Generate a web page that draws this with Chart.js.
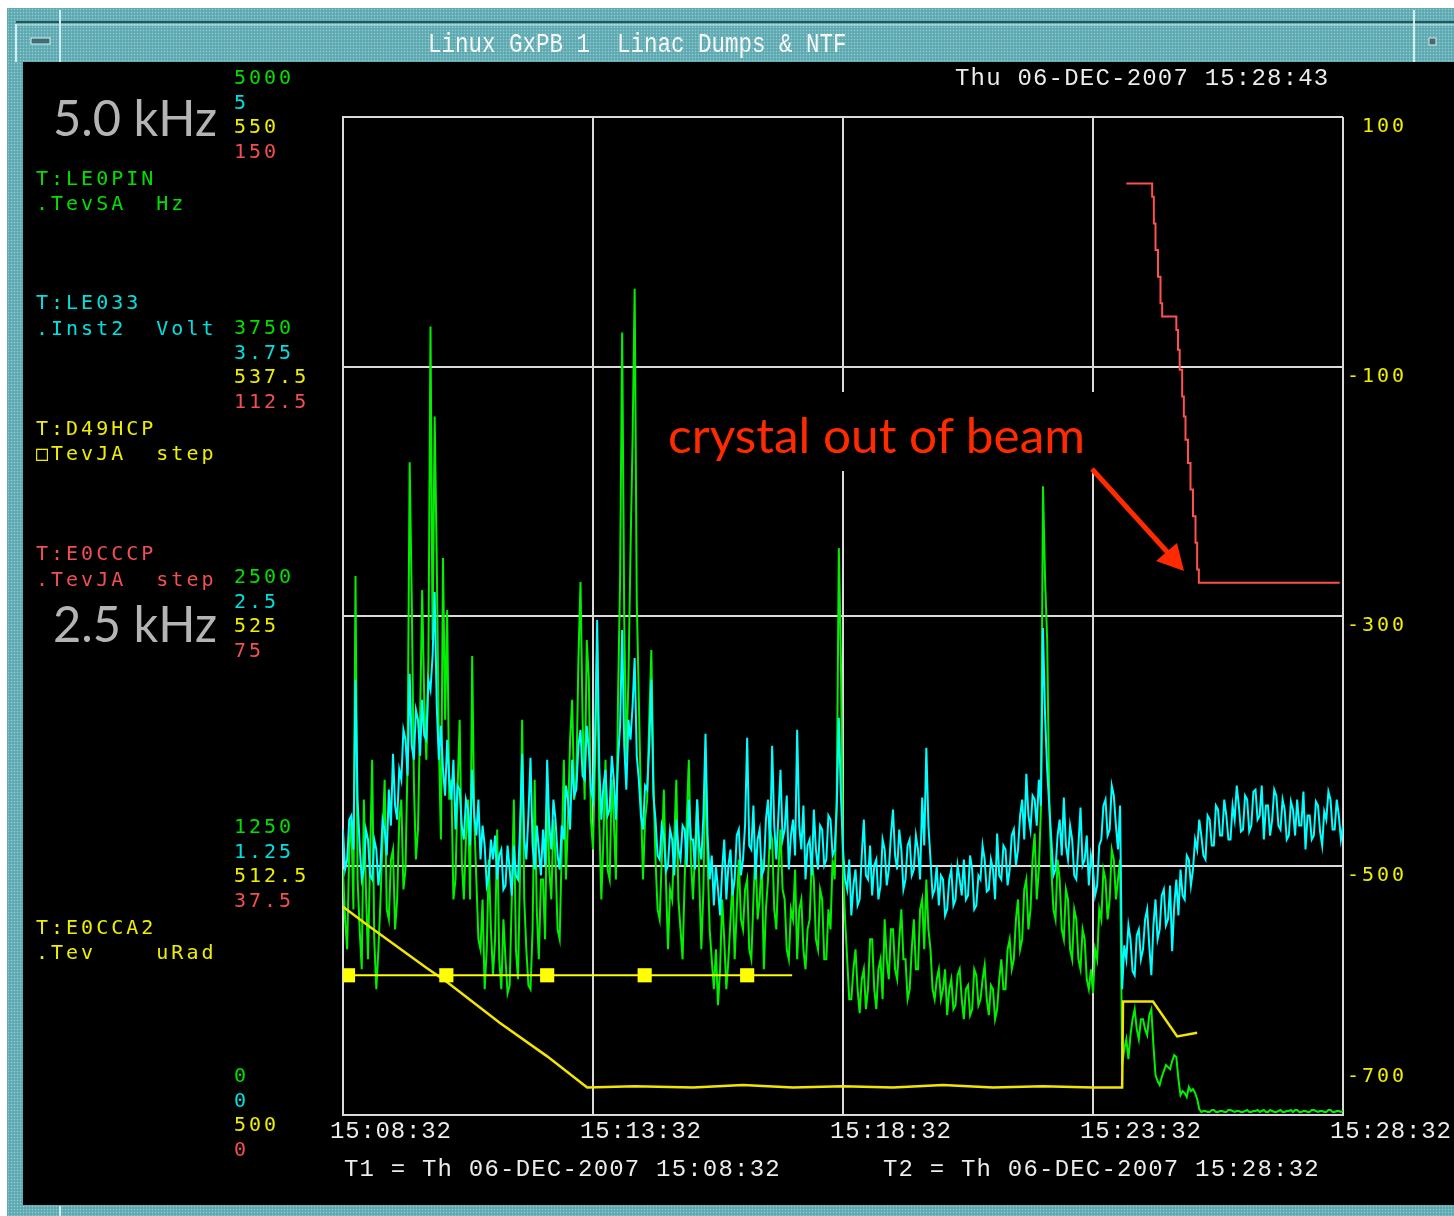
<!DOCTYPE html>
<html>
<head>
<meta charset="utf-8">
<script src="https://cdn.jsdelivr.net/npm/chart.js@4.4.1/dist/chart.umd.min.js"></script>
<style>
html,body{margin:0;padding:0;background:#fff;}
#page{position:relative;width:1454px;height:1216px;overflow:hidden;background:#fff;}
.teal{background-color:#5ea8b0;background-image:radial-gradient(circle, rgba(175,228,230,0.6) 0.7px, transparent 1.1px);background-size:3px 3px;}
#frame{position:absolute;left:7px;top:8px;width:1447px;height:1208px;}
#panel{position:absolute;left:23px;top:62px;width:1431px;height:1143px;background:#000;}
#c{position:absolute;left:0;top:0;width:1454px;height:1216px;}
#ov{position:absolute;left:0;top:0;}
#ov text{white-space:pre;}
.mono{font-family:"DejaVu Sans Mono",monospace;font-size:20px;letter-spacing:3px;}
.thin{font-family:"Liberation Mono",monospace;font-size:24px;letter-spacing:1.2px;fill:#ececec;}
</style>
</head>
<body>
<div id="page">
  <div id="frame" class="teal"></div>
  <div id="panel"></div>
  <canvas id="c" width="1454" height="1216"></canvas>
  <svg id="ov" width="1454" height="1216" xmlns="http://www.w3.org/2000/svg">
    <line x1="16" y1="22" x2="1454" y2="22" stroke="#22575c" stroke-width="2"/>
    <line x1="16" y1="25" x2="1454" y2="25" stroke="#c4e9ec" stroke-width="1"/>
    <line x1="60" y1="10" x2="60" y2="62" stroke="#cdeff1" stroke-width="2"/>
    <line x1="16" y1="24" x2="16" y2="62" stroke="#cdeff1" stroke-width="2"/>
    <line x1="1414" y1="10" x2="1414" y2="62" stroke="#cdeff1" stroke-width="2"/>
    <rect x="31" y="38" width="19" height="6" fill="#3d6e73" stroke="#d8f0f2" stroke-width="1"/>
    <rect x="1429" y="38" width="7" height="7" fill="#3d6e73" stroke="#e0e0e0" stroke-width="1"/>
    <line x1="60" y1="1206" x2="60" y2="1216" stroke="#cdeff1" stroke-width="2"/>
    <text transform="translate(428,52) scale(1,1.2)" x="0" y="0" font-family="Liberation Mono" font-size="22.5" fill="#f6f6f6">Linux GxPB 1  Linac Dumps &amp; NTF</text>

    <text class="thin" x="955" y="85">Thu 06-DEC-2007 15:28:43</text>
    <text class="thin" x="344" y="1176">T1 = Th 06-DEC-2007 15:08:32</text>
    <text class="thin" x="883" y="1176">T2 = Th 06-DEC-2007 15:28:32</text>

    <g class="mono">
      <text x="36" y="185" fill="#00e000">T:LE0PIN</text>
      <text x="36" y="210" fill="#00e000">.TevSA  Hz</text>
      <text x="36" y="309" fill="#00e0e0">T:LE033</text>
      <text x="36" y="335" fill="#00e0e0">.Inst2  Volt</text>
      <text x="36" y="435" fill="#eeee00">T:D49HCP</text>
      <text x="36" y="460" fill="#eeee00">□TevJA  step</text>
      <text x="36" y="560" fill="#f05050">T:E0CCCP</text>
      <text x="36" y="586" fill="#f05050">.TevJA  step</text>
      <text x="36" y="934" fill="#eeee00">T:E0CCA2</text>
      <text x="36" y="959" fill="#eeee00">.Tev    uRad</text>
    </g>

    <text x="53" y="136" font-family="Lato" font-size="51" fill="#b4b4b4" textLength="164" lengthAdjust="spacingAndGlyphs">5.0 kHz</text>
    <text x="53" y="642" font-family="Lato" font-size="51" fill="#b4b4b4" textLength="164" lengthAdjust="spacingAndGlyphs">2.5 kHz</text>
    <rect x="660" y="392" width="436" height="79" fill="#000"/>
    <text x="668" y="453" font-family="Lato" font-size="49" fill="#ff2a00" textLength="417" lengthAdjust="spacingAndGlyphs">crystal out of beam</text>
    <line x1="1092" y1="469" x2="1170" y2="555" stroke="#ff2a00" stroke-width="5"/>
    <polygon points="1184,571 1156,561 1177,543" fill="#ff2a00"/>
  </svg>
</div>
<script>
// ---------------- data ----------------
// sample times (s after 15:08:32) of the two fast channels
const sampleTimes = [
0,2.5,5,7.5,10,12.5,15,17.5,20,22.5,25,27.5,30,32.5,35,37.5,40,42.5,45,47.5,50,52.5,55,57.5,
60,62.5,65,67.5,70,72.5,75,77.5,80,82.5,85,87.5,90,92.5,95,97.5,100,102.5,105,107.5,110,112.5,115,117.5,
120,122.5,125,127.5,130,132.5,135,137.5,140,142.5,145,147.5,150,152.5,155,157.5,160,162.5,165,167.5,170,172.5,175,177.5,
180,182.5,185,187.5,190,192.5,195,197.5,200,202.5,205,207.5,210,212.5,215,217.5,220,222.5,225,227.5,230,232.5,235,237.5,
240,242.5,245,247.5,250,252.5,255,257.5,260,262.5,265,267.5,270,272.5,275,277.5,280,282.5,285,287.5,290,292.5,295,297.5,
300,302.5,305,307.5,310,312.5,315,317.5,320,322.5,325,327.5,330,332.5,335,337.5,340,342.5,345,347.5,350,352.5,355,357.5,
360,362.5,365,367.5,370,372.5,375,377.5,380,382.5,385,387.5,390,392.5,395,397.5,400,402.5,405,407.5,410,412.5,415,417.5,
420,422.5,425,427.5,430,432.5,435,437.5,440,442.5,445,447.5,450,452.5,455,457.5,460,462.5,465,467.5,470,472.5,475,477.5,
480,482.5,485,487.5,490,492.5,495,497.5,500,502.5,505,507.5,510,512.5,515,517.5,520,522.5,525,527.5,530,532.5,535,537.5,
540,542.5,545,547.5,550,552.5,555,557.5,560,562.5,565,567.5,570,572.5,575,577.5,580,582.5,585,587.5,590,592.5,595,597.5,
600,602.5,605,607.5,610,612.5,615,617.5,620,622.5,625,627.5,630,632.5,635,637.5,640,642.5,645,647.5,650,652.5,655,657.5,
660,662.5,665,667.5,670,672.5,675,677.5,680,682.5,685,687.5,690,692.5,695,697.5,700,702.5,705,707.5,710,712.5,715,717.5,
720,722.5,725,727.5,730,732.5,735,737.5,740,742.5,745,747.5,750,752.5,755,757.5,760,762.5,765,767.5,770,772.5,775,777.5,
780,782.5,785,787.5,790,792.5,795,797.5,800,802.5,805,807.5,810,812.5,815,817.5,820,822.5,825,827.5,830,832.5,835,837.5,
840,842.5,845,847.5,850,852.5,855,857.5,860,862.5,865,867.5,870,872.5,875,877.5,880,882.5,885,887.5,890,892.5,895,897.5,
900,902.5,905,907.5,910,912.5,915,917.5,920,922.5,925,927.5,930,932.5,935,937.5,940,942.5,945,947.5,950,952.5,955,957.5,
960,962.5,965,967.5,970,972.5,975,977.5,980,982.5,985,987.5,990,992.5,995,997.5,1000,1002.5,1005,1007.5,1010,1012.5,1015,1017.5,
1020,1022.5,1025,1027.5,1030,1032.5,1035,1037.5,1040,1042.5,1045,1047.5,1050,1052.5,1055,1057.5,1060,1062.5,1065,1067.5,1070,1072.5,1075,1077.5,
1080,1082.5,1085,1087.5,1090,1092.5,1095,1097.5,1100,1102.5,1105,1107.5,1110,1112.5,1115,1117.5,1120,1122.5,1125,1127.5,1130,1132.5,1135,1137.5,
1140,1142.5,1145,1147.5,1150,1152.5,1155,1157.5,1160,1162.5,1165,1167.5,1170,1172.5,1175,1177.5,1180,1182.5,1185,1187.5,1190,1192.5,1195,1197.5,
1200];

// T:LE0PIN .TevSA (Hz)
const le0pinHz = [
1230,980,830,1330,1480,1030,2700,1180,930,730,1580,1130,780,1280,1780,880,630,830,1080,1380,1680,1030,980,1280,
1330,930,1080,1480,1580,1130,1230,1780,3270,2580,1680,1280,1430,1980,2630,2080,1780,2280,3950,2380,3500,2780,1880,1380,
2790,1980,2530,1580,1680,1080,1180,1630,1980,1280,1080,1380,1580,1080,2300,1480,1180,880,830,1080,630,830,1280,930,
700,880,1430,780,630,980,780,610,650,1080,1580,830,680,1230,1980,1080,830,650,630,930,1680,1030,780,1180,
1180,880,1630,1230,1080,1480,1280,930,880,1330,1780,1180,1480,1880,2080,1580,1680,2280,2670,1980,1580,2380,2180,1480,
1330,1780,2380,1480,1080,1380,1780,1230,1180,1680,1480,1180,2080,2680,3920,2480,1780,2180,2820,3380,4140,2580,2080,1580,
1180,1480,1580,1980,2330,1680,1280,1030,980,1280,1630,1180,830,1130,1080,1380,1680,1080,930,780,1180,1480,1780,1280,
1080,1330,1580,1180,830,1130,1780,1280,930,780,630,830,550,730,1080,880,630,780,980,1180,780,1030,1280,980,
930,1130,1180,830,780,1080,1330,980,1080,1280,730,1030,1180,1430,1380,1030,930,1230,1430,1130,1080,830,780,1030,
980,1230,780,1030,1080,830,730,930,980,1280,1180,880,830,1130,1080,780,780,1030,930,1280,1180,1580,2840,2280,
1230,980,780,580,580,730,830,630,510,680,730,530,630,880,880,630,530,730,780,580,980,780,680,930,
930,730,680,880,1030,780,780,580,630,830,980,730,730,1030,1080,830,1180,930,830,630,580,680,730,580,
630,730,500,630,680,530,550,700,730,580,480,630,650,500,530,730,700,550,580,680,750,580,500,650,
630,480,530,680,780,630,630,830,880,730,780,980,1080,830,880,1130,1180,930,1030,1280,1410,1080,1230,1530,
3150,2680,2380,1580,1230,1030,980,1280,1180,930,880,1130,1080,830,780,1030,980,780,730,930,880,680,630,730,
610,830,780,1030,980,1230,1180,980,1080,1330,1280,1080,1180,1280,250,330,380,280,400,480,530,430,380,480,
480,430,400,500,530,350,200,170,150,190,220,250,240,230,270,300,290,180,100,120,110,90,140,120,
130,110,80,30,15,20,20,15,15,25,25,15,15,20,20,15,15,25,25,20,15,20,20,15,
15,20,25,15,15,20,20,25,15,20,25,15,15,25,20,15,15,20,25,15,15,20,20,25,
15,25,25,15,15,20,20,15,15,25,25,20,15,20,20,15,15,25,25,15,15,20,20,15,
20];

// T:LE033 .Inst2 (Volt)
const le033Volt = [
1.43,1.23,1.28,1.48,1.50,1.33,2.18,1.58,1.35,1.18,1.23,1.43,1.38,1.20,1.18,1.38,1.33,1.15,1.25,1.48,1.43,1.30,1.63,1.45,
1.81,1.55,1.48,1.73,1.68,1.93,1.88,1.70,2.21,1.85,1.78,2.03,1.98,1.80,2.08,1.90,1.88,2.18,2.13,2.30,2.62,2.05,1.78,1.95,
1.73,1.60,1.88,1.68,1.58,1.78,1.43,1.65,1.63,1.45,1.38,1.58,1.53,1.35,1.73,1.50,1.40,1.58,1.28,1.45,1.35,1.15,1.20,1.38,
1.28,1.40,1.18,1.30,1.33,1.13,1.15,1.35,1.23,1.10,1.35,1.20,1.18,1.45,1.81,1.38,1.28,1.50,1.79,1.35,1.23,1.45,1.33,1.20,
1.43,1.25,1.78,1.45,1.33,1.58,1.48,1.30,1.23,1.45,1.38,1.65,1.58,1.43,1.78,1.60,1.63,1.85,1.93,1.70,1.68,1.95,1.83,1.63,
1.58,1.88,2.48,1.75,1.48,1.65,1.73,1.50,1.53,1.80,1.68,1.48,1.78,1.95,2.43,1.85,1.63,1.98,1.88,2.05,2.29,1.80,1.68,1.50,
1.43,1.65,1.63,1.85,2.18,1.60,1.48,1.30,1.28,1.45,1.40,1.22,1.25,1.43,1.38,1.20,1.48,1.33,1.28,1.45,1.43,1.25,1.58,1.38,
1.38,1.23,1.58,1.35,1.28,1.50,1.91,1.40,1.18,1.30,1.05,1.25,1.13,1.00,1.23,1.38,1.08,1.25,1.33,1.10,1.18,1.40,1.43,1.20,
1.28,1.45,1.89,1.35,1.33,1.55,1.18,1.38,1.43,1.20,1.23,1.48,1.58,1.33,1.85,1.45,1.28,1.50,1.73,1.38,1.43,1.60,1.23,1.40,
1.48,1.30,1.93,1.45,1.33,1.55,1.18,1.35,1.38,1.20,1.53,1.33,1.23,1.45,1.43,1.25,1.28,1.50,1.48,1.30,1.33,1.55,1.99,1.60,
1.33,1.18,1.13,1.28,1.00,1.15,1.23,1.05,1.08,1.30,1.48,1.20,1.18,1.35,1.10,1.25,1.28,1.08,1.15,1.38,1.33,1.15,1.23,1.40,
1.53,1.30,1.23,1.43,1.33,1.13,1.18,1.35,1.38,1.20,1.23,1.40,1.33,1.18,1.59,1.35,1.84,1.45,1.28,1.10,1.13,1.25,1.05,1.20,
1.18,1.00,1.03,1.18,1.23,1.05,1.08,1.25,1.18,1.10,1.28,1.08,1.10,1.30,1.23,1.03,1.05,1.20,1.18,1.35,1.28,1.12,1.13,1.28,
1.23,1.08,1.41,1.20,1.18,1.35,1.33,1.15,1.23,1.40,1.43,1.25,1.33,1.50,1.58,1.38,1.71,1.50,1.43,1.60,1.58,1.45,1.68,1.55,
2.44,2.00,1.73,1.55,1.38,1.20,1.23,1.40,1.48,1.30,1.59,1.35,1.28,1.45,1.38,1.20,1.18,1.35,1.54,1.25,1.28,1.40,1.15,1.30,
1.23,1.10,1.15,1.35,1.38,1.55,1.58,1.40,1.43,1.65,1.60,1.45,1.33,1.55,0.63,0.85,0.78,0.95,0.88,0.72,0.70,0.90,0.93,0.78,
0.83,0.98,1.03,0.85,0.70,0.95,1.08,0.88,0.93,1.10,1.13,0.95,0.98,1.15,0.82,1.05,1.18,1.00,1.23,1.10,1.08,1.30,1.28,1.15,
1.23,1.38,1.33,1.48,1.40,1.30,1.28,1.50,1.48,1.35,1.35,1.55,1.53,1.40,1.40,1.58,1.50,1.38,1.38,1.55,1.48,1.65,1.55,1.42,
1.43,1.60,1.58,1.42,1.45,1.62,1.63,1.48,1.50,1.65,1.38,1.55,1.55,1.40,1.48,1.63,1.60,1.45,1.43,1.58,1.53,1.38,1.40,1.57,
1.53,1.40,1.58,1.45,1.45,1.62,1.33,1.50,1.50,1.38,1.40,1.57,1.55,1.42,1.35,1.52,1.48,1.62,1.58,1.43,1.43,1.58,1.50,1.38,
1.45];

// T:D49HCP step (yellow, 500..550) - markers every ~2 min
const d49Times  = [0, 6, 124, 245, 362, 485, 539];
const d49Values = [507, 507, 507, 507, 507, 507, 507];
const d49Marker = [0, 10, 10, 10, 10, 10, 0];

// T:E0CCA2 .Tev uRad (yellow, right axis -700..100)
const cca2Times  = [0, 30, 100, 124, 188, 245, 293, 350, 420, 480, 540, 600, 660, 720, 780, 840, 900, 935, 936, 972, 1001, 1025];
const cca2Values = [-533, -548, -582, -593, -626, -653, -678, -677, -678, -676, -678, -677, -678, -676, -678, -677, -678, -678, -609, -609, -637, -634];

// T:E0CCCP .TevJA step (red, 0..150)
const ccpTimes  = [940, 971, 973, 975, 978, 981, 983, 1000, 1002, 1004, 1007, 1009, 1011, 1014, 1017, 1020, 1023, 1025, 1027, 1196];
const ccpValues = [140, 138, 134, 130, 126, 122, 120, 118, 115, 112, 108, 105, 101.5, 98, 94, 90, 86, 82, 80, 80];

// axis tick labels
const timeTicks   = [0, 300, 600, 900, 1200];
const timeLabels  = ['15:08:32', '15:13:32', '15:18:32', '15:23:32', '15:28:32'];
const greenTicks  = [5000, 3750, 2500, 1250, 0];
const cyanTicks   = [5, 3.75, 2.5, 1.25, 0];
const yellowTicks = [550, 537.5, 525, 512.5, 500];
const redTicks    = [150, 112.5, 75, 37.5, 0];
const uradTicks   = [100, -100, -300, -500, -700];

// ---------------- chart ----------------
const GRID = '#dadada';

const acnetLabels = {
  id: 'acnetLabels',
  afterDraw(chart) {
    const {ctx, chartArea: a, scales: s} = chart;
    ctx.save();
    ctx.textBaseline = 'middle';
    ctx.textAlign = 'left';
    ctx.font = '20px "DejaVu Sans Mono"';
    if ('letterSpacing' in ctx) ctx.letterSpacing = '3px';
    const lx = a.left - 109;
    const groups = [
      [s.yG, greenTicks, '#00e000', -38],
      [s.yC, cyanTicks, '#00e0e0', -13],
      [s.yY, yellowTicks, '#eeee00', 11],
      [s.yR, redTicks, '#f05050', 36]
    ];
    groups.forEach(([sc, ticks, col, off]) => {
      ctx.fillStyle = col;
      ticks.forEach(v => ctx.fillText(String(v), lx, sc.getPixelForValue(v) + off));
    });
    ctx.fillStyle = '#eeee00';
    uradTicks.forEach((v, i) => {
      const txt = String(v);
      const off = (i === uradTicks.length - 1) ? -38 : 10;
      ctx.fillText(txt, a.right + 64 - 15 * txt.length, s.yU.getPixelForValue(v) + off);
    });
    ctx.font = '24px "Liberation Mono"';
    if ('letterSpacing' in ctx) ctx.letterSpacing = '0.8px';
    ctx.fillStyle = '#ececec';
    timeTicks.forEach((t, i) => ctx.fillText(timeLabels[i], s.x.getPixelForValue(t) - 13, a.bottom + 17));
    ctx.restore();
  }
};

const gridOpts = {color: GRID, lineWidth: 2, drawTicks: false};
const borderOpts = {display: true, color: GRID, width: 2};

new Chart(document.getElementById('c'), {
  type: 'line',
  data: {
    labels: sampleTimes,
    datasets: [
      {
        label: 'T:E0CCCP', data: ccpTimes.map((t, i) => ({x: t, y: ccpValues[i]})),
        yAxisID: 'yR', borderColor: '#ff5050', borderWidth: 2, stepped: 'before', pointRadius: 0, order: 0
      },
      {
        label: 'T:D49HCP', data: d49Times.map((t, i) => ({x: t, y: d49Values[i]})),
        yAxisID: 'yY', borderColor: '#ffff00', borderWidth: 2, pointStyle: 'rect',
        pointRadius: d49Marker, pointBackgroundColor: '#ffff00', pointBorderColor: '#ffff00', pointBorderWidth: 0, order: 1
      },
      {
        label: 'T:E0CCA2', data: cca2Times.map((t, i) => ({x: t, y: cca2Values[i]})),
        yAxisID: 'yU', borderColor: '#f2e600', borderWidth: 2.5, pointRadius: 0, order: 2
      },
      {
        label: 'T:LE033', data: le033Volt, yAxisID: 'yC',
        borderColor: '#00ffff', borderWidth: 2, pointRadius: 0, order: 3
      },
      {
        label: 'T:LE0PIN', data: le0pinHz, yAxisID: 'yG',
        borderColor: '#00f000', borderWidth: 2, pointRadius: 0, order: 4
      }
    ]
  },
  options: {
    responsive: false,
    animation: false,
    devicePixelRatio: 1,
    layout: {padding: {left: 343, right: 111, top: 117, bottom: 101}},
    plugins: {legend: {display: false}, tooltip: {enabled: false}},
    elements: {line: {tension: 0}},
    scales: {
      x: {type: 'linear', min: 0, max: 1200, z: 1,
          ticks: {display: false, stepSize: 300}, grid: gridOpts, border: borderOpts},
      yG: {type: 'linear', position: 'left', min: 0, max: 5000, z: 1,
           ticks: {display: false, stepSize: 1250}, grid: gridOpts, border: borderOpts},
      yC: {type: 'linear', position: 'left', display: false, min: 0, max: 5},
      yY: {type: 'linear', position: 'left', display: false, min: 500, max: 550},
      yR: {type: 'linear', position: 'left', display: false, min: 0, max: 150},
      yU: {type: 'linear', position: 'right', display: false, min: -700, max: 100}
    }
  },
  plugins: [acnetLabels]
});
</script>
</body>
</html>
